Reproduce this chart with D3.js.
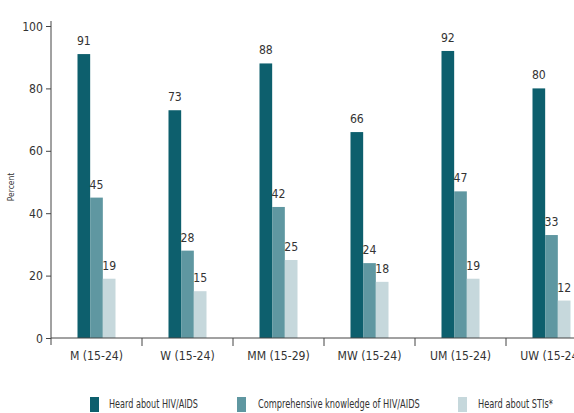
<!DOCTYPE html>
<html><head><meta charset="utf-8">
<script src="https://cdn.jsdelivr.net/npm/d3@7"></script>
<style>body{margin:0;background:#fff}svg{display:block}text{font-family:"DejaVu Sans",sans-serif;fill:#333}</style>
</head><body><svg id="c" width="574" height="413"></svg>
<script>
const categories = ["M (15-24)","W (15-24)","MM (15-29)","MW (15-24)","UM (15-24)","UW (15-24)"];
const seriesNames = ["Heard about HIV/AIDS","Comprehensive knowledge of HIV/AIDS","Heard about STIs*"];
const heardHIV = [91,73,88,66,92,80];
const comprehensive = [45,28,42,24,47,33];
const heardSTI = [19,15,25,18,19,12];
const yTicks = [0,20,40,60,80,100];
const colors = ["#0d5f6d","#5f97a1","#c6d8dc"];
const FF = '"DejaVu Sans",sans-serif';

const series = [heardHIV, comprehensive, heardSTI];
const svg = d3.select("#c");
const y = d3.scaleLinear().domain([0,100]).range([338,26]);
const x = d3.scaleBand().domain(categories).range([51,597]).paddingInner(0).paddingOuter(0);
const inner = d3.scaleBand().domain(d3.range(3)).range([0,38]);
const off = (x.bandwidth()-38)/2;

categories.forEach((c,i)=>{
  series.forEach((s,j)=>{
    const bx = x(c)+off+inner(j);
    svg.append("rect").attr("x",bx).attr("y",y(s[i])).attr("width",inner.bandwidth()).attr("height",y(0)-y(s[i])).attr("fill",colors[j]);
    svg.append("text").attr("x",bx+inner.bandwidth()/2).attr("y",y(s[i])-9).attr("text-anchor","middle").attr("font-size",13).text(s[i]);
  });
});

const ya = svg.append("g").attr("transform","translate(51,0)").call(d3.axisLeft(y).tickValues(yTicks).tickSize(5).tickPadding(3));
ya.select(".domain").attr("stroke","#444").attr("d","M0,21V345");
ya.selectAll(".tick line").attr("stroke","#444");
ya.selectAll(".tick text").attr("font-size",13).attr("fill","#333").attr("font-family",FF);

const xa = svg.append("g").attr("transform","translate(0,338)").call(d3.axisBottom(x).tickSize(0).tickPadding(13));
xa.select(".domain").attr("stroke","#444").attr("d","M51,0H574");
xa.selectAll(".tick text").attr("font-size",13).attr("fill","#333").attr("font-family",FF);
categories.slice(1).forEach(c=>{
  svg.append("line").attr("x1",x(c)).attr("x2",x(c)).attr("y1",338).attr("y2",346).attr("stroke","#444");
});

svg.append("text").attr("transform","translate(14,187) rotate(-90)").attr("text-anchor","middle").attr("font-size",9).text("Percent");

// condense all text horizontally
svg.selectAll("text").each(function(){
  const w = this.getComputedTextLength();
  d3.select(this).attr("textLength", w*0.84).attr("lengthAdjust","spacingAndGlyphs");
});

// legend
const legSq = [90,237,458], legTx = [109,258,478], legW = [89,162,75];
seriesNames.forEach((n,j)=>{
  svg.append("rect").attr("x",legSq[j]).attr("y",397).attr("width",9).attr("height",15).attr("fill",colors[j]);
  const g = svg.append("g");
  const t = g.append("text").attr("x",0).attr("y",0).attr("font-size",13).text(n);
  const w = t.node().getComputedTextLength();
  g.attr("transform",`translate(${legTx[j]},408) scale(${legW[j]/w},1)`);
});
</script></body></html>
